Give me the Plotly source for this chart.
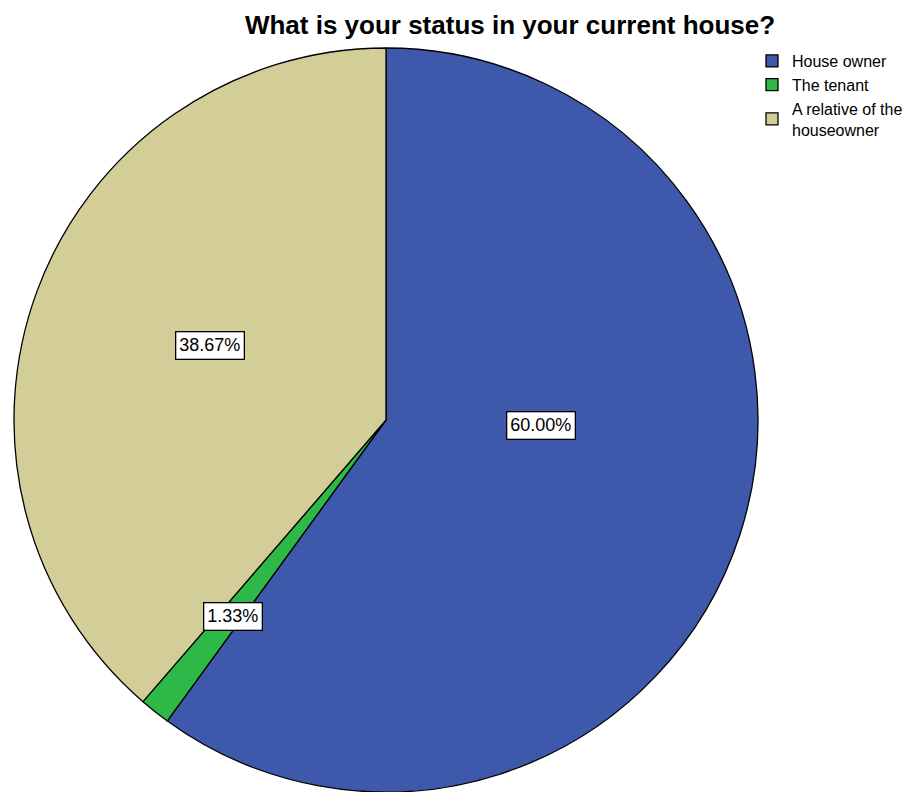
import math
import plotly.graph_objects as go

# Survey answers: "What is your status in your current house?"
categories = ["House owner", "The tenant", "A relative of the<br>houseowner"]
percentages = [60.00, 1.33, 38.67]
slice_colors = ["#3E58AC", "#2EB848", "#D3CE97"]

W, H = 913, 792
# pie placement in pixels
cx, cy, r = 386, 420, 372

# where each value label sits, as (angle clockwise from 12 o'clock in degrees, fraction of radius)
label_spots = [(92, 0.417), (218, 0.67), (293, 0.513)]

fig = go.Figure(
    go.Pie(
        labels=categories,
        values=percentages,
        sort=False,
        direction="clockwise",
        rotation=0,
        textinfo="none",
        hoverinfo="label+percent",
        marker=dict(colors=slice_colors, line=dict(color="black", width=1.3)),
        domain=dict(x=[(cx - r) / W, (cx + r) / W], y=[0, (2 * r) / H]),
        showlegend=True,
    )
)

annotations = []
for val, (ang, frac) in zip(percentages, label_spots):
    a = math.radians(ang)
    px = cx + frac * r * math.sin(a)
    py = cy - frac * r * math.cos(a)
    annotations.append(
        dict(
            x=px / W,
            y=1 - py / H,
            xref="paper",
            yref="paper",
            xanchor="center",
            yanchor="middle",
            text=f"{val:.2f}%",
            showarrow=False,
            font=dict(family="Arial, Liberation Sans", size=18, color="black"),
            bgcolor="white",
            bordercolor="black",
            borderwidth=1.3,
            borderpad=3,
        )
    )

fig.update_layout(
    width=W,
    height=H,
    margin=dict(l=0, r=0, t=0, b=0),
    paper_bgcolor="white",
    plot_bgcolor="white",
    title=dict(
        text="<b>What is your status in your current house?</b>",
        x=510 / W,
        xanchor="center",
        y=1 - 25 / H,
        yanchor="middle",
        font=dict(family="Arial, Liberation Sans", size=26, color="black"),
    ),
    legend=dict(
        x=752 / W,
        y=1 - 44 / H,
        xanchor="left",
        yanchor="top",
        font=dict(family="Arial, Liberation Sans", size=16, color="black"),
        itemwidth=30,
        tracegroupgap=0,
        bgcolor="rgba(0,0,0,0)",
    ),
    annotations=annotations,
)

fig.write_html("out.html")
